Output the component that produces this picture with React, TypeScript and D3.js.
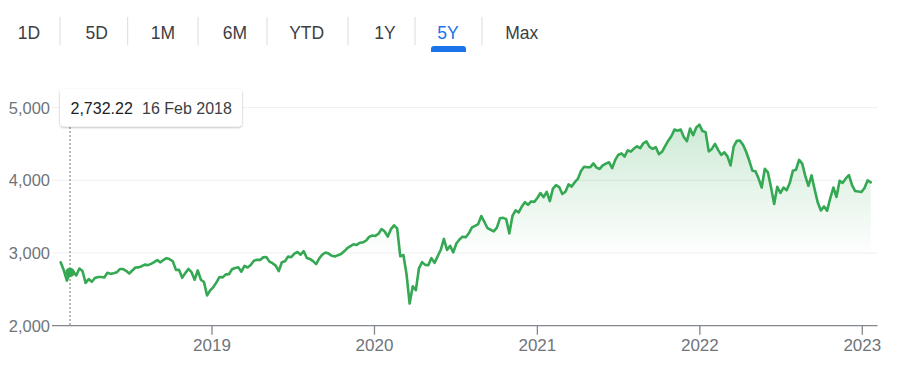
import React from "react";
import * as d3 from "d3";

const W = 903;
const H = 380;

// Range tabs
const tabLabels = ["1D", "5D", "1M", "6M", "YTD", "1Y", "5Y", "Max"];
const activeTab = "5Y";

// Weekly closes, first week ending 26 Jan 2018
const firstWeek = new Date(2018, 0, 26);
const values2018 = [2872.87, 2762.13, 2619.55, 2732.22, 2747.3, 2691.25, 2786.57, 2752.01, 2588.26, 2640.87, 2604.47, 2656.3, 2670.14, 2669.91, 2663.42, 2727.72, 2712.97, 2721.33, 2734.62, 2779.03, 2779.66, 2754.88, 2718.37, 2759.82, 2801.31, 2801.83, 2818.82, 2840.35, 2833.28, 2850.13, 2874.69, 2901.52, 2871.68, 2904.98, 2929.67, 2913.98, 2885.57, 2767.13, 2767.78, 2658.69, 2723.06, 2781.01, 2736.27, 2632.56, 2760.17, 2633.08, 2599.95, 2416.62, 2485.74];
const values2019 = [2531.94, 2596.26, 2670.71, 2664.76, 2706.53, 2707.88, 2775.6, 2792.67, 2803.69, 2743.07, 2822.48, 2800.71, 2834.4, 2892.74, 2907.41, 2905.03, 2939.88, 2945.64, 2881.4, 2859.53, 2826.06, 2752.06, 2873.34, 2886.98, 2950.46, 2941.76, 2990.41, 3013.77, 2976.61, 3025.86, 2932.05, 2918.65, 2888.68, 2847.11, 2926.46, 2978.71, 3007.39, 2992.07, 2961.79, 2952.01, 2970.27, 2986.2, 3022.55, 3066.91, 3093.08, 3120.46, 3110.29, 3140.98, 3145.91, 3168.8, 3221.22, 3240.02];
const values2020 = [3234.85, 3265.35, 3329.62, 3295.47, 3225.52, 3327.71, 3380.16, 3337.75, 2954.22, 2972.37, 2711.02, 2304.92, 2541.47, 2488.65, 2789.82, 2874.56, 2836.74, 2830.71, 2929.8, 2863.7, 2955.45, 3044.31, 3193.93, 3041.31, 3097.74, 3009.05, 3130.01, 3185.04, 3224.73, 3215.63, 3271.12, 3351.28, 3372.85, 3397.16, 3508.01, 3426.96, 3340.97, 3319.47, 3298.46, 3348.44, 3477.13, 3483.81, 3465.39, 3269.96, 3509.44, 3585.15, 3557.54, 3638.35, 3699.12, 3663.46, 3709.41, 3703.06, 3756.07];
const values2021 = [3824.68, 3768.25, 3841.47, 3714.24, 3886.83, 3934.83, 3906.71, 3811.15, 3841.94, 3943.34, 3913.1, 3974.54, 4019.87, 4128.8, 4185.47, 4180.17, 4181.17, 4232.6, 4173.85, 4155.86, 4204.11, 4229.89, 4247.44, 4166.45, 4280.7, 4352.34, 4369.55, 4327.16, 4411.79, 4395.26, 4436.52, 4468.0, 4441.67, 4509.37, 4535.43, 4458.58, 4432.99, 4455.48, 4357.04, 4391.34, 4471.37, 4544.9, 4605.38, 4697.53, 4682.85, 4697.96, 4594.62, 4538.43, 4712.02, 4620.64, 4725.79, 4766.18];
const values2022 = [4677.03, 4662.85, 4397.94, 4431.85, 4500.53, 4418.64, 4348.87, 4384.65, 4328.87, 4204.31, 4463.12, 4543.06, 4545.86, 4488.28, 4392.59, 4271.78, 4131.93, 4123.34, 4023.89, 3901.36, 4158.24, 4108.54, 3900.86, 3674.84, 3911.74, 3825.33, 3899.38, 3863.16, 3961.63, 4130.29, 4145.19, 4280.15, 4228.48, 4057.66, 3924.26, 4067.36, 3873.33, 3693.23, 3585.62, 3639.66, 3583.07, 3752.75, 3901.06, 3770.55, 3992.93, 3965.34, 4026.12, 4071.7, 3934.38, 3852.36, 3844.82, 3839.5];
const values2023 = [3895.08, 3999.09, 3972.61];

const yTicks = [2000, 3000, 4000, 5000];
const xTickYears = [2019, 2020, 2021, 2022, 2023];

// Tooltip
const tooltipValue = 2732.22;
const tooltipDate = new Date(2018, 1, 16);
const tooltipDateLabel = "16 Feb 2018";

const allValues = [...values2018, ...values2019, ...values2020, ...values2021, ...values2022, ...values2023];
const series = allValues.map((v, i) => ({ date: d3.timeDay.offset(firstWeek, 7 * i), value: v }));

const FONT = "'Liberation Sans', Arial, Helvetica, sans-serif";

export default function App() {
  const x = d3
    .scaleTime()
    .domain([new Date(2019, 0, 1), new Date(2023, 0, 1)])
    .range([212, 862.3]);
  const y = d3.scaleLinear().domain([2000, 5000]).range([325.7, 107.6]);

  const plotLeft = 52;
  const plotRight = 877.5;

  const line = d3
    .line<{ date: Date; value: number }>()
    .x((d) => x(d.date))
    .y((d) => y(d.value));
  const area = d3
    .area<{ date: Date; value: number }>()
    .x((d) => x(d.date))
    .y0(y(2000))
    .y1((d) => y(d.value));

  const maxV = d3.max(allValues) as number;

  // Tabs geometry
  const tabCenters = [29, 96.7, 163, 235, 306.7, 385, 448, 521.7];
  const sepXs = [60, 127.7, 198, 267, 348, 415, 482];

  const tx = x(tooltipDate);
  const ty = y(tooltipValue);

  return (
    <div style={{ position: "fixed", left: 0, top: 0, width: W, height: H, background: "#fff" }}>
      <svg width={W} height={H} style={{ display: "block" }}>
        <defs>
          <linearGradient id="areaGrad" gradientUnits="userSpaceOnUse" x1="0" x2="0" y1={y(maxV)} y2={y(2950)}>
            <stop offset="0" stopColor="#34a853" stopOpacity={0.24} />
            <stop offset="1" stopColor="#34a853" stopOpacity={0} />
          </linearGradient>
          <filter id="tipShadow" x="-10%" y="-30%" width="120%" height="170%">
            <feDropShadow dx="0" dy="1" stdDeviation="1.2" floodColor="#000" floodOpacity="0.3" />
          </filter>
        </defs>

        {/* Tabs */}
        {tabLabels.map((t, i) => (
          <text
            key={t}
            x={tabCenters[i]}
            y={39}
            textAnchor="middle"
            fontFamily={FONT}
            fontSize={17.5}
            fill={t === activeTab ? "#1a73e8" : "#3c4043"}
          >
            {t}
          </text>
        ))}
        {sepXs.map((sx, i) => (
          <line key={i} x1={sx} x2={sx} y1={17} y2={45} stroke="#dadce0" strokeWidth={1} />
        ))}
        <path
          d={`M ${431} ${52} L ${431} ${49} Q ${431} ${46} ${434} ${46} L ${463} ${46} Q ${466} ${46} ${466} ${49} L ${466} ${52} Z`}
          fill="#1a73e8"
        />

        {/* Grid lines */}
        {yTicks.slice(1).map((v) => (
          <line key={v} x1={plotLeft} x2={plotRight} y1={y(v)} y2={y(v)} stroke="#efefef" strokeWidth={1} />
        ))}

        {/* Y labels */}
        {yTicks.map((v) => (
          <text
            key={v}
            x={50}
            y={y(v)}
            dy="0.36em"
            textAnchor="end"
            fontFamily={FONT}
            fontSize={16.5}
            fill="#70757a"
          >
            {d3.format(",")(v)}
          </text>
        ))}

        {/* Area + line */}
        <path d={area(series) || ""} fill="url(#areaGrad)" />
        <path d={line(series) || ""} fill="none" stroke="#34a853" strokeWidth={2.6} strokeLinejoin="round" strokeLinecap="round" />

        {/* X axis */}
        <line x1={plotLeft} x2={plotRight} y1={y(2000)} y2={y(2000)} stroke="#80868b" strokeWidth={1.3} />
        {xTickYears.map((yr) => {
          const xx = x(new Date(yr, 0, 1));
          return (
            <g key={yr}>
              <line x1={xx} x2={xx} y1={y(2000)} y2={y(2000) + 9} stroke="#80868b" strokeWidth={1.3} />
              <text x={xx} y={351} textAnchor="middle" fontFamily={FONT} fontSize={17} fill="#70757a">
                {yr}
              </text>
            </g>
          );
        })}

        {/* Tooltip */}
        <line x1={tx} x2={tx} y1={127} y2={y(2000)} stroke="#70757a" strokeWidth={1} strokeDasharray="2,2" />
        <circle cx={tx} cy={ty} r={4.8} fill="#34a853" />
        <rect x={60} y={89} width={182} height={37.5} rx={4} fill="#fff" filter="url(#tipShadow)" />
        <text x={70.5} y={113.5} fontFamily={FONT} fontSize={16} fill="#202124">
          {d3.format(",.2f")(tooltipValue)}
        </text>
        <text x={142} y={113.5} fontFamily={FONT} fontSize={16} fill="#3c4043">
          {tooltipDateLabel}
        </text>
      </svg>
    </div>
  );
}
